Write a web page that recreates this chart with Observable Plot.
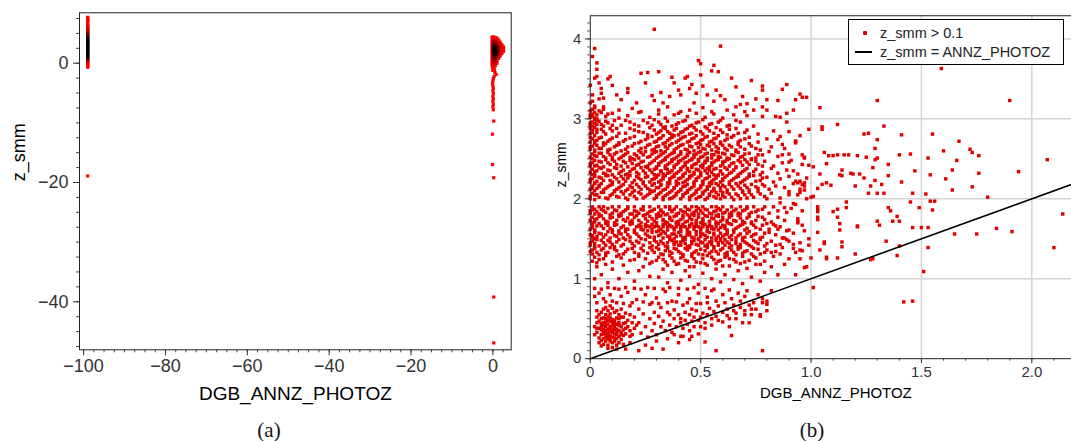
<!DOCTYPE html>
<html><head><meta charset="utf-8">
<script src="https://cdn.jsdelivr.net/npm/d3@7"></script>
<script src="https://cdn.jsdelivr.net/npm/@observablehq/plot@0.6"></script>
<style>
html,body{margin:0;padding:0;background:#fff;overflow:hidden;}
#root{position:relative;width:1071px;height:441px;overflow:hidden;font-family:"Liberation Sans",Arial,sans-serif;}
#pa{position:absolute;left:0;top:0;}
#pb{position:absolute;left:520px;top:0;}
.cap{position:absolute;top:430px;font-family:"Liberation Serif",serif;font-size:21px;color:#111;transform:translate(-50%,-50%);white-space:nowrap;}
#legend{position:absolute;left:848px;top:19px;width:216px;height:46px;border:1px solid #000;background:#fff;box-sizing:border-box;font-size:14.5px;color:#222;}
#legend .dot{position:absolute;left:14px;top:11px;width:4px;height:4px;background:#e00000;border-radius:1px;}
#legend .ln{position:absolute;left:6px;top:31px;width:17px;height:2px;background:#000;}
#legend .t{position:absolute;left:31px;white-space:nowrap;line-height:16px;}
</style></head>
<body><div id="root">
<div id="pa"></div><div id="pb"></div>
<div class="cap" style="left:269px">(a)</div>
<div class="cap" style="left:812px">(b)</div>
<div id="legend"><span class="dot"></span><span class="t" style="top:5px">z_smm &gt; 0.1</span><span class="ln"></span><span class="t" style="top:24px">z_smm = ANNZ_PHOTOZ</span></div>
</div>
<script>
// ---------- Panel (a) data ----------
const aXTicks = [-100, -80, -60, -40, -20, 0];
const aYTicks = [-40, -20, 0];
const aXLabel = "DGB_ANNZ_PHOTOZ";
const aYLabel = "z_smm";
const flagX = -99;
// column at DGB_ANNZ_PHOTOZ = -99 : [z_smm, overlap count]
const flagColumn = [7.7,1, 7.55,1, 7.4,1, 7.25,1, 7.1,1, 6.95,1, 6.5,1, 6.35,1, 6.2,2, 6.05,2, 5.9,3, 5.75,3, 5.6,4, 5.45,5, 5.3,6, 5.15,7, 5.0,9, 4.85,10, 4.7,12, 4.55,13, 4.4,15, 4.25,16, 4.1,18, 3.95,19, 3.8,20, 3.65,20, 3.5,20, 3.35,20, 3.2,20, 3.05,20, 2.9,20, 2.75,20, 2.6,20, 2.45,20, 2.3,20, 2.15,20, 2.0,20, 1.85,20, 1.7,20, 1.55,20, 1.4,20, 1.25,19, 1.1,17, 0.95,15, 0.8,12, 0.65,10, 0.5,7, 0.35,5, 0.2,3, 0.05,2, -0.1,1, -0.25,1, -0.4,1, -0.55,1, -0.67,1, -18.9,1];
// blob near zero : [photoz, z_smm, overlap count]
const zeroBlob = [-0.2,4.4,1, 0.2,4.4,2, 0.6,4.3,1, 1.0,4.2,1,
 -0.2,4.0,2, 0.2,4.0,4, 0.6,4.0,3, 1.0,3.9,2, 1.4,3.9,1,
 -0.2,3.6,3, 0.2,3.6,7, 0.6,3.6,8, 1.0,3.6,5, 1.4,3.6,2, 1.8,3.5,1,
 -0.2,3.2,5, 0.2,3.2,11, 0.6,3.2,13, 1.0,3.2,9, 1.4,3.2,4, 1.8,3.2,2, 2.2,3.1,1,
 -0.2,2.8,6, 0.2,2.8,15, 0.6,2.8,17, 1.0,2.8,12, 1.4,2.8,6, 1.8,2.8,3, 2.2,2.8,1, 2.6,2.7,1,
 -0.2,2.4,7, 0.2,2.4,18, 0.6,2.4,20, 1.0,2.4,14, 1.4,2.4,7, 1.8,2.4,3, 2.2,2.4,2, 2.6,2.4,1,
 -0.2,2.0,7, 0.2,2.0,18, 0.6,2.0,20, 1.0,2.0,14, 1.4,2.0,7, 1.8,2.0,3, 2.2,2.0,2, 2.6,2.0,1,
 -0.2,1.6,6, 0.2,1.6,16, 0.6,1.6,18, 1.0,1.6,12, 1.4,1.6,5, 1.8,1.6,2, 2.2,1.6,1,
 -0.2,1.2,5, 0.2,1.2,13, 0.6,1.2,14, 1.0,1.2,9, 1.4,1.2,3, 1.8,1.2,1,
 -0.2,0.8,4, 0.2,0.8,10, 0.6,0.8,10, 1.0,0.8,5, 1.4,0.8,2,
 -0.2,0.4,3, 0.2,0.4,7, 0.6,0.4,6, 1.0,0.4,3,
 -0.2,0.0,2, 0.2,0.0,4, 0.6,0.0,3, 1.0,0.0,1,
 -0.2,-0.4,1, 0.2,-0.4,2, 0.6,-0.4,1,
 -0.1,-0.8,1, 0.3,-0.8,1, 0.0,-1.2,1, 0.4,-1.2,1];
const zeroTail = [0.5,-1.6,2, 0.8,-1.9,1, 0.3,-2.2,2, 0.1,-2.6,2, 0.0,-3.0,2, -0.1,-3.4,1, 0.0,-3.8,1, 0.1,-4.2,1, 0.0,-4.6,1, 0.1,-5.1,1, 0.0,-5.6,1, 0.1,-6.0,1, 0.0,-6.4,1, 0.1,-6.9,1, 0.0,-7.3,1, 0.1,-7.8,1, 0.2,-9.7,1, -0.1,-11.9,1, -0.1,-17.0,1, 0.2,-19.2,1, 0.2,-39.2,1, 0.2,-46.9,1];

// ---------- Panel (b) data : [photoz, z_smm] pairs ----------
const bXTicks = [0, 0.5, 1.0, 1.5, 2.0];
const bYTicks = [0, 1, 2, 3, 4];
const identityLine = [0, 2.2];
const lowCluster = [.03,.45,.04,.38,.05,.30,.06,.42,.07,.35,.08,.28,.09,.40,.10,.33,.05,.50,.06,.25,.07,.46,.08,.37,.09,.22,.11,.44,.12,.30,.04,.55,.05,.36,.06,.31,.07,.27,.08,.48,.09,.34,.10,.41,.11,.26,.12,.37,.13,.45,.14,.33,.03,.33,.04,.26,.05,.44,.06,.51,.07,.40,.08,.32,.09,.47,.10,.27,.11,.36,.12,.51,.13,.28,.14,.40,.15,.36,.16,.45,.02,.40,.03,.52,.04,.47,.05,.23,.06,.37,.07,.31,.08,.43,.09,.29,.10,.49,.11,.31,.12,.43,.13,.35,.14,.52,.15,.29,.16,.38,.17,.48,.05,.58,.06,.62,.07,.55,.08,.60,.09,.56,.10,.63,.11,.58,.12,.60,.13,.55,.04,.20,.06,.18,.07,.22,.08,.17,.09,.25,.10,.20,.11,.22,.12,.17,.13,.20,.14,.24,.15,.18,.06,.45,.07,.50,.08,.53,.09,.38,.10,.36,.11,.48,.12,.25,.13,.50,.03,.60,.02,.30,.03,.38,.05,.40,.06,.33,.07,.43,.08,.25,.09,.51,.10,.45,.11,.40,.12,.34,.13,.42,.14,.30,.15,.44,.16,.31,.17,.40,.18,.35,.19,.45,.18,.28,.20,.38,.15,.52,.16,.57,.14,.62,.18,.55,.19,.30,.21,.42,.08,.13,.10,.14,.12,.12,.05,.16,.07,.64,.09,.66];
const lowerScatter = [.02,.88,.05,.87,.08,.89,.11,.88,.13,.87,.16,.89,.20,.88,.23,.87,.26,.89,.29,.88,.33,.87,.36,.89,.40,.88,.44,.87,.47,.89,.52,.88,.56,.87,
 .03,.70,.07,.71,.12,.70,.15,.69,.19,.70,.24,.71,.28,.70,.31,.69,.35,.70,.39,.71,.44,.70,.48,.69,.53,.70,
 .02,.78,.04,.82,.06,.75,.09,.80,.10,.72,.14,.78,.17,.83,.18,.66,.21,.74,.22,.62,.25,.80,.27,.68,.29,.58,.30,.76,.32,.64,.34,.84,.36,.55,.37,.72,.38,.61,.40,.80,.41,.50,.42,.67,.43,.58,.45,.75,.46,.62,.47,.52,.49,.82,.50,.69,.51,.57,.53,.77,.54,.63,.55,.85,.56,.59,.57,.72,.58,.66,.60,.80,.61,.70,.62,.62,.63,.86,.64,.75,.65,.67,.67,.82,.68,.72,.70,.78,.71,.85,.73,.62,.74,.70,.76,.80,.78,.75,.80,.68,.82,.85,
 .20,.52,.22,.45,.23,.32,.24,.56,.25,.40,.26,.27,.27,.50,.28,.35,.29,.44,.30,.30,.31,.53,.32,.40,.33,.47,.34,.35,.35,.58,.36,.42,.37,.33,.38,.50,.39,.40,.40,.55,.41,.45,.42,.38,.43,.48,.44,.43,.45,.55,.46,.47,.47,.40,.48,.60,.49,.48,.50,.52,.52,.45,.53,.55,.55,.50,.57,.53,.58,.48,.60,.58,.62,.54,.63,.50,.65,.60,.66,.57,.68,.64,.70,.60,.72,.67,.75,.62,.77,.55,.78,.70,.80,.72,
 .25,.17,.30,.22,.35,.25,.33,.12,.38,.30,.45,.35,.46,.28,.50,.40,.55,.42,.57,.10,.60,.46,.63,.40,.66,.50,.69,.45,.70,.55,.73,.55,.77,.53,.78,.10,.80,.60,.72,.45,.52,.38,.49,.31,.52,.21,.45,.24,.41,.28,.64,.29,.40,.20,.28,.13,.22,.10,.18,.20,.16,.12,.42,.28];
const gapScatter = [.02,1.00,.05,1.05,.08,.95,.10,1.12,.13,1.00,.17,1.08,.20,.97,.24,1.15,.27,1.03,.03,1.15,.07,1.18,.15,1.17,.22,1.10,
 .31,1.02,.33,1.12,.35,.95,.37,1.08,.39,1.18,.41,.98,.43,1.10,.45,1.03,.47,1.15,.49,.93,.51,1.07,.53,1.17,.55,1.00,.57,1.12,.59,.96,.61,1.05,.63,1.16,.65,.99,.67,1.10,.69,.94,.71,1.13,.73,1.02,.75,1.18,.77,.97,.79,1.08,.82,1.15,.85,1.05,.88,1.18];
const mainBlob = [
 .01,1.22,.02,1.27,.04,1.24,.07,1.29,.10,1.21,.14,1.26,.18,1.23,.22,1.28,.25,1.25,.28,1.21,.31,1.27,.33,1.24,.36,1.29,.38,1.22,.41,1.26,.43,1.23,.46,1.28,.48,1.21,.51,1.25,.53,1.29,.56,1.24,.58,1.22,.61,1.27,.63,1.25,.66,1.21,.69,1.28,.72,1.23,.75,1.26,.79,1.22,.83,1.28,.90,1.25,.35,1.17,.45,1.15,.52,1.19,.60,1.16,.68,1.19,
 .00,1.34,.01,1.31,.02,1.38,.03,1.33,.05,1.36,.07,1.32,.09,1.39,.12,1.35,.15,1.31,.17,1.37,.20,1.33,.23,1.38,.26,1.32,.28,1.36,.30,1.39,.32,1.31,.34,1.35,.35,1.38,.37,1.32,.39,1.37,.40,1.34,.42,1.30,.44,1.36,.45,1.39,.47,1.33,.49,1.31,.50,1.37,.52,1.35,.54,1.32,.56,1.38,.57,1.34,.59,1.36,.61,1.31,.63,1.39,.65,1.33,.67,1.37,.69,1.32,.71,1.35,.74,1.38,.77,1.31,.80,1.36,.84,1.34,.87,1.39,.93,1.33,
 .00,1.42,.01,1.47,.02,1.44,.03,1.49,.04,1.41,.06,1.45,.08,1.48,.10,1.43,.12,1.46,.14,1.41,.16,1.49,.19,1.44,.21,1.47,.24,1.42,.27,1.45,.29,1.48,.31,1.43,.32,1.47,.34,1.41,.35,1.45,.36,1.49,.38,1.43,.39,1.46,.41,1.42,.42,1.48,.43,1.44,.45,1.41,.46,1.47,.48,1.43,.49,1.49,.51,1.45,.52,1.41,.54,1.46,.55,1.43,.57,1.48,.58,1.42,.60,1.45,.61,1.49,.63,1.44,.64,1.41,.66,1.47,.68,1.43,.70,1.46,.72,1.42,.74,1.48,.76,1.44,.79,1.41,.82,1.47,.86,1.43,.89,1.49,.95,1.45,.99,1.42,
 .00,1.55,.01,1.51,.02,1.58,.03,1.53,.05,1.56,.06,1.52,.08,1.59,.11,1.54,.13,1.57,.15,1.51,.17,1.55,.20,1.58,.22,1.53,.25,1.56,.27,1.52,.30,1.59,.31,1.54,.33,1.51,.34,1.57,.36,1.53,.37,1.56,.38,1.50,.40,1.58,.41,1.54,.43,1.52,.44,1.57,.45,1.55,.47,1.51,.48,1.59,.50,1.53,.51,1.56,.53,1.52,.54,1.58,.56,1.55,.57,1.51,.59,1.57,.60,1.53,.62,1.56,.63,1.52,.65,1.58,.67,1.54,.69,1.51,.71,1.57,.73,1.53,.75,1.56,.78,1.52,.81,1.58,.84,1.55,.88,1.51,.92,1.57,
 .00,1.62,.01,1.68,.02,1.61,.03,1.66,.04,1.69,.06,1.63,.08,1.67,.10,1.61,.12,1.68,.14,1.64,.17,1.62,.19,1.69,.21,1.65,.23,1.65,.25,1.65,.27,1.65,.29,1.65,.31,1.65,.33,1.65,.35,1.65,.37,1.65,.39,1.65,.41,1.65,.43,1.65,.45,1.65,.47,1.65,.49,1.65,.51,1.65,.53,1.65,.55,1.65,.57,1.65,.59,1.64,.22,1.66,.26,1.66,.30,1.66,.36,1.66,.42,1.66,.48,1.66,.54,1.66,.60,1.66,.24,1.61,.28,1.68,.32,1.62,.34,1.69,.38,1.61,.40,1.68,.44,1.62,.46,1.69,.50,1.61,.52,1.68,.56,1.62,.58,1.69,.61,1.66,.62,1.61,.64,1.68,.66,1.63,.68,1.67,.70,1.61,.73,1.69,.75,1.64,.78,1.67,.81,1.62,.83,1.68,.86,1.65,.90,1.61,.96,1.67,
 .00,1.73,.01,1.77,.02,1.71,.03,1.75,.05,1.79,.07,1.72,.09,1.76,.11,1.70,.13,1.78,.15,1.74,.18,1.71,.20,1.77,.22,1.73,.24,1.79,.26,1.72,.28,1.75,.30,1.70,.31,1.78,.33,1.74,.34,1.71,.36,1.77,.37,1.73,.39,1.79,.40,1.72,.42,1.76,.43,1.71,.45,1.78,.46,1.74,.48,1.70,.49,1.77,.51,1.73,.52,1.79,.54,1.72,.55,1.76,.57,1.71,.58,1.78,.60,1.74,.62,1.70,.63,1.77,.65,1.73,.67,1.79,.69,1.72,.71,1.76,.73,1.71,.76,1.78,.79,1.74,.82,1.71,.85,1.77,.88,1.73,.94,1.75,
 .00,1.82,.01,1.86,.02,1.81,.03,1.84,.05,1.87,.07,1.83,.09,1.80,.12,1.85,.14,1.82,.16,1.86,.19,1.81,.21,1.84,.23,1.87,.26,1.82,.28,1.85,.30,1.80,.32,1.86,.33,1.83,.35,1.81,.37,1.85,.38,1.87,.40,1.82,.42,1.84,.44,1.80,.45,1.86,.47,1.83,.49,1.81,.50,1.85,.52,1.87,.54,1.82,.56,1.84,.58,1.80,.59,1.86,.61,1.83,.63,1.81,.65,1.85,.67,1.82,.70,1.86,.72,1.81,.75,1.84,.78,1.87,.81,1.82,.85,1.85,.89,1.83,
 .01,1.90,.04,1.90,.06,1.90,.10,1.90,.13,1.90,.17,1.90,.20,1.90,.24,1.90,.27,1.90,.31,1.90,.34,1.90,.36,1.90,.39,1.90,.43,1.90,.46,1.90,.48,1.90,.51,1.90,.55,1.90,.57,1.90,.60,1.90,.64,1.90,.68,1.90,.71,1.90,.74,1.90,.79,1.90,.83,1.90,
 .00,2.03,.01,2.07,.02,1.99,.03,2.05,.05,2.08,.07,2.01,.09,2.04,.11,2.09,.13,2.02,.15,2.06,.17,1.99,.20,2.03,.22,2.08,.24,2.01,.26,2.05,.28,2.09,.30,2.02,.31,2.06,.33,1.99,.34,2.04,.36,2.08,.37,2.01,.39,2.05,.40,2.09,.42,2.03,.43,2.07,.45,1.99,.46,2.04,.48,2.08,.49,2.02,.51,2.06,.52,1.99,.54,2.04,.55,2.09,.57,2.01,.58,2.05,.60,2.08,.61,2.02,.63,2.06,.65,1.99,.67,2.04,.69,2.08,.71,2.01,.73,2.05,.76,2.09,.79,2.03,.82,2.07,.86,2.01,.90,2.05,.95,2.08,1.00,2.02,
 .00,2.12,.01,2.16,.02,2.19,.03,2.13,.04,2.17,.06,2.11,.08,2.15,.10,2.18,.12,2.12,.14,2.16,.16,2.10,.19,2.14,.21,2.18,.23,2.12,.25,2.16,.27,2.11,.29,2.19,.30,2.14,.32,2.17,.33,2.11,.35,2.15,.36,2.19,.38,2.13,.39,2.17,.41,2.11,.42,2.15,.44,2.18,.45,2.12,.47,2.16,.48,2.10,.50,2.14,.51,2.18,.53,2.12,.54,2.16,.56,2.11,.57,2.19,.59,2.14,.60,2.17,.62,2.11,.64,2.15,.66,2.19,.68,2.13,.70,2.17,.72,2.11,.75,2.15,.78,2.18,.81,2.12,.84,2.16,.88,2.14,.92,2.19,.97,2.11,
 .00,2.21,.01,2.25,.02,2.28,.03,2.22,.05,2.26,.07,2.29,.09,2.23,.11,2.27,.13,2.21,.15,2.25,.18,2.29,.20,2.23,.22,2.26,.24,2.21,.26,2.28,.28,2.24,.30,2.27,.31,2.21,.33,2.25,.34,2.29,.36,2.23,.37,2.27,.39,2.21,.40,2.25,.42,2.28,.43,2.22,.45,2.26,.46,2.29,.48,2.23,.49,2.27,.51,2.21,.52,2.25,.54,2.28,.55,2.22,.57,2.26,.58,2.29,.60,2.23,.61,2.27,.63,2.21,.65,2.25,.67,2.28,.69,2.22,.71,2.26,.74,2.29,.77,2.23,.80,2.27,.83,2.21,.86,2.25,.90,2.28,.93,2.22,.98,2.26,
 .00,2.33,.01,2.37,.02,2.31,.03,2.35,.04,2.39,.06,2.32,.08,2.36,.10,2.30,.12,2.38,.14,2.34,.17,2.31,.19,2.37,.21,2.33,.23,2.39,.25,2.32,.27,2.36,.29,2.30,.30,2.38,.32,2.34,.33,2.31,.35,2.37,.36,2.33,.38,2.39,.39,2.32,.41,2.36,.42,2.30,.44,2.38,.45,2.34,.47,2.31,.48,2.37,.50,2.33,.51,2.39,.53,2.32,.54,2.36,.56,2.30,.57,2.38,.59,2.34,.60,2.31,.62,2.37,.64,2.33,.66,2.39,.68,2.32,.70,2.36,.72,2.31,.75,2.37,.78,2.33,.82,2.38,.85,2.32,.89,2.36,.94,2.31,
 .00,2.41,.01,2.45,.02,2.48,.03,2.42,.05,2.46,.07,2.49,.09,2.43,.11,2.47,.14,2.41,.16,2.45,.18,2.48,.21,2.42,.23,2.46,.25,2.40,.27,2.44,.29,2.48,.31,2.42,.32,2.46,.34,2.49,.35,2.43,.37,2.47,.38,2.41,.40,2.45,.41,2.48,.43,2.42,.44,2.46,.46,2.49,.47,2.43,.49,2.47,.50,2.41,.52,2.45,.53,2.48,.55,2.42,.56,2.46,.58,2.49,.60,2.43,.61,2.47,.63,2.41,.65,2.45,.67,2.48,.69,2.42,.71,2.46,.73,2.49,.76,2.43,.79,2.47,.83,2.41,.87,2.45,.91,2.48,.96,2.43,
 .00,2.52,.01,2.56,.02,2.59,.03,2.53,.05,2.57,.07,2.51,.09,2.55,.12,2.58,.14,2.52,.16,2.56,.19,2.50,.21,2.54,.23,2.58,.26,2.52,.28,2.56,.30,2.59,.31,2.53,.33,2.57,.34,2.51,.36,2.55,.38,2.58,.39,2.52,.41,2.56,.42,2.50,.44,2.54,.45,2.58,.47,2.52,.48,2.56,.50,2.59,.51,2.53,.53,2.57,.55,2.51,.56,2.55,.58,2.58,.59,2.52,.61,2.56,.63,2.50,.65,2.54,.67,2.58,.69,2.53,.72,2.57,.75,2.51,.78,2.55,.81,2.59,.85,2.53,.90,2.56,.97,2.52,
 .00,2.62,.01,2.66,.02,2.69,.04,2.63,.06,2.67,.08,2.61,.11,2.65,.13,2.68,.16,2.62,.19,2.66,.22,2.60,.25,2.64,.27,2.68,.29,2.62,.31,2.66,.33,2.69,.35,2.63,.36,2.67,.38,2.61,.40,2.65,.42,2.68,.43,2.62,.45,2.66,.47,2.60,.49,2.64,.50,2.68,.52,2.62,.54,2.66,.56,2.69,.58,2.63,.60,2.67,.62,2.61,.64,2.65,.67,2.68,.70,2.62,.73,2.66,.77,2.61,.82,2.65,.87,2.68,
 .00,2.71,.01,2.75,.02,2.79,.03,2.73,.05,2.77,.08,2.72,.10,2.76,.13,2.70,.16,2.74,.20,2.78,.23,2.72,.26,2.76,.29,2.71,.31,2.75,.33,2.79,.35,2.73,.37,2.77,.39,2.71,.41,2.75,.43,2.78,.45,2.72,.47,2.76,.49,2.70,.51,2.74,.53,2.78,.55,2.72,.57,2.76,.59,2.71,.62,2.75,.65,2.79,.68,2.73,.72,2.77,.76,2.71,.80,2.75,.86,2.78,.93,2.72,
 .00,2.82,.01,2.86,.02,2.89,.03,2.83,.05,2.87,.07,2.81,.10,2.85,.12,2.88,.16,2.82,.20,2.86,.24,2.83,.27,2.89,.30,2.81,.32,2.85,.34,2.88,.36,2.82,.38,2.86,.40,2.80,.42,2.84,.44,2.88,.46,2.82,.48,2.86,.51,2.81,.54,2.85,.57,2.89,.60,2.83,.63,2.87,.67,2.82,.71,2.86,.76,2.81,.83,2.85,
 .00,2.92,.01,2.96,.02,2.99,.03,2.93,.04,2.97,.06,2.91,.08,2.95,.11,2.98,.14,2.92,.18,2.96,.22,2.91,.26,2.95,.29,2.99,.32,2.93,.35,2.97,.37,2.91,.40,2.95,.43,2.98,.46,2.92,.49,2.96,.52,2.90,.55,2.94,.59,2.98,.63,2.92,.68,2.96,.74,2.91,
 .00,3.02,.01,3.06,.02,3.01,.03,3.05,.05,3.08,.07,3.03,.10,3.07,.13,3.01,.17,3.04,.22,3.08,.27,3.02,.31,3.06,.34,3.01,.38,3.05,.41,3.09,.44,3.03,.48,3.07,.52,3.02,.56,3.06,.60,3.01,.65,3.05,.70,3.09,.78,3.03];
const mainBlob2 = [
 .03,1.20,.06,1.25,.12,1.28,.20,1.24,.27,1.19,.30,1.23,.34,1.21,.37,1.26,.40,1.19,.42,1.28,.44,1.22,.47,1.25,.50,1.20,.55,1.27,.57,1.19,.59,1.23,.62,1.29,.65,1.24,.70,1.21,.74,1.28,.77,1.18,
 .01,1.36,.04,1.30,.06,1.38,.08,1.33,.11,1.37,.13,1.30,.16,1.34,.19,1.38,.22,1.31,.24,1.35,.27,1.39,.29,1.33,.31,1.37,.33,1.30,.36,1.34,.38,1.38,.41,1.32,.43,1.38,.46,1.31,.48,1.35,.51,1.30,.53,1.39,.55,1.34,.58,1.31,.60,1.38,.62,1.33,.64,1.36,.66,1.30,.68,1.39,.70,1.34,.73,1.31,.76,1.37,.79,1.33,
 .00,1.45,.02,1.40,.05,1.48,.07,1.42,.09,1.46,.11,1.40,.13,1.49,.15,1.43,.18,1.47,.20,1.41,.22,1.45,.25,1.49,.28,1.41,.30,1.46,.33,1.44,.35,1.40,.37,1.48,.38,1.45,.40,1.42,.41,1.46,.43,1.49,.44,1.40,.46,1.44,.47,1.48,.49,1.42,.50,1.46,.52,1.49,.53,1.43,.55,1.47,.56,1.40,.58,1.45,.59,1.48,.61,1.42,.62,1.46,.64,1.49,.66,1.44,.67,1.40,.69,1.48,.71,1.44,.73,1.40,.75,1.46,.77,1.49,.80,1.44,
 .01,1.54,.02,1.50,.04,1.57,.07,1.55,.09,1.51,.10,1.58,.12,1.53,.14,1.56,.16,1.59,.18,1.52,.21,1.56,.23,1.50,.26,1.54,.28,1.58,.29,1.52,.32,1.56,.33,1.59,.35,1.53,.36,1.50,.38,1.56,.39,1.53,.41,1.59,.42,1.51,.44,1.55,.45,1.58,.46,1.52,.48,1.55,.49,1.50,.50,1.57,.52,1.54,.53,1.59,.55,1.51,.56,1.57,.58,1.53,.59,1.50,.61,1.55,.62,1.59,.64,1.54,.66,1.51,.68,1.56,.70,1.52,.72,1.59,.74,1.55,.77,1.51,.79,1.57,
 .01,1.64,.02,1.60,.05,1.66,.07,1.69,.09,1.63,.11,1.67,.13,1.60,.15,1.66,.16,1.62,.18,1.68,.20,1.61,.22,1.67,.23,1.62,.25,1.68,.26,1.60,.28,1.62,.30,1.67,.31,1.60,.33,1.68,.35,1.61,.36,1.67,.38,1.63,.39,1.69,.41,1.62,.42,1.68,.44,1.60,.45,1.67,.47,1.62,.48,1.68,.50,1.63,.51,1.69,.53,1.61,.54,1.67,.55,1.63,.57,1.69,.58,1.61,.60,1.67,.61,1.63,.63,1.69,.65,1.61,.67,1.65,.69,1.68,.71,1.63,.74,1.67,.77,1.62,.80,1.69,
 .01,1.70,.02,1.74,.04,1.78,.06,1.75,.08,1.71,.10,1.77,.12,1.73,.14,1.79,.16,1.72,.17,1.76,.19,1.73,.21,1.79,.23,1.70,.25,1.75,.27,1.78,.29,1.72,.30,1.76,.32,1.79,.33,1.73,.35,1.70,.36,1.75,.38,1.78,.39,1.71,.41,1.74,.42,1.79,.44,1.72,.45,1.76,.47,1.79,.48,1.73,.50,1.70,.51,1.75,.53,1.78,.54,1.71,.56,1.75,.57,1.79,.59,1.72,.60,1.77,.62,1.73,.64,1.79,.66,1.72,.68,1.76,.70,1.70,.72,1.78,.75,1.73,.78,1.77,
 .00,1.85,.02,1.87,.04,1.81,.06,1.85,.08,1.88,.10,1.82,.11,1.86,.13,1.80,.15,1.84,.17,1.88,.18,1.81,.20,1.85,.22,1.82,.24,1.86,.25,1.80,.27,1.84,.29,1.87,.31,1.82,.32,1.85,.34,1.80,.36,1.87,.37,1.84,.39,1.81,.41,1.86,.43,1.83,.44,1.87,.46,1.81,.48,1.85,.49,1.88,.51,1.82,.53,1.86,.55,1.81,.57,1.85,.58,1.88,.60,1.82,.62,1.86,.64,1.83,.66,1.87,.68,1.81,.69,1.85,.71,1.88,.73,1.83,.76,1.86,
 .00,2.00,.02,2.05,.04,2.02,.06,2.08,.08,2.00,.10,2.06,.12,2.03,.14,2.09,.16,2.01,.18,2.05,.19,2.08,.21,2.00,.23,2.06,.25,2.03,.27,2.07,.29,2.00,.30,2.04,.32,2.08,.33,2.02,.35,2.06,.36,2.00,.38,2.03,.39,2.07,.41,2.00,.42,2.05,.44,2.08,.45,2.02,.47,2.06,.48,2.00,.50,2.03,.51,2.08,.53,2.01,.54,2.06,.56,2.03,.57,2.08,.59,2.00,.60,2.04,.62,2.08,.64,2.02,.66,2.06,.68,2.00,.70,2.05,.72,2.08,.74,2.02,.77,2.06,.80,2.00,
 .01,2.13,.02,2.10,.04,2.15,.05,2.19,.07,2.13,.09,2.17,.11,2.10,.13,2.14,.15,2.18,.17,2.12,.18,2.16,.20,2.10,.22,2.15,.24,2.19,.26,2.13,.28,2.17,.29,2.10,.31,2.14,.32,2.18,.34,2.12,.35,2.16,.37,2.10,.38,2.14,.40,2.19,.41,2.12,.43,2.16,.44,2.10,.46,2.14,.47,2.19,.49,2.12,.50,2.16,.52,2.10,.53,2.15,.55,2.19,.56,2.13,.58,2.17,.59,2.10,.61,2.15,.63,2.18,.65,2.12,.67,2.16,.69,2.10,.71,2.14,.73,2.18,.76,2.13,.79,2.16,
 .00,2.24,.02,2.20,.04,2.27,.06,2.23,.08,2.29,.10,2.21,.12,2.25,.14,2.28,.16,2.22,.17,2.26,.19,2.20,.21,2.28,.23,2.24,.25,2.27,.27,2.21,.29,2.25,.30,2.29,.32,2.23,.33,2.27,.35,2.20,.36,2.25,.38,2.28,.39,2.22,.41,2.26,.42,2.20,.44,2.24,.45,2.28,.47,2.21,.48,2.25,.50,2.29,.51,2.22,.53,2.26,.54,2.20,.56,2.24,.57,2.28,.59,2.21,.60,2.25,.62,2.29,.64,2.23,.66,2.27,.68,2.20,.70,2.24,.72,2.28,.75,2.22,.78,2.26,
 .01,2.30,.02,2.34,.05,2.38,.07,2.31,.09,2.35,.11,2.39,.13,2.32,.15,2.36,.16,2.30,.18,2.34,.20,2.38,.22,2.31,.24,2.35,.26,2.39,.28,2.33,.29,2.37,.31,2.30,.32,2.35,.34,2.38,.35,2.32,.37,2.35,.38,2.30,.40,2.34,.41,2.38,.43,2.32,.44,2.36,.46,2.39,.47,2.33,.49,2.36,.50,2.30,.52,2.35,.53,2.38,.55,2.33,.56,2.37,.58,2.30,.59,2.35,.61,2.39,.63,2.32,.65,2.36,.67,2.30,.69,2.34,.71,2.38,.74,2.34,.77,2.30,
 .00,2.44,.02,2.41,.04,2.47,.06,2.40,.08,2.45,.10,2.49,.12,2.43,.15,2.47,.17,2.40,.19,2.44,.20,2.49,.22,2.43,.24,2.47,.26,2.41,.28,2.46,.30,2.40,.31,2.44,.33,2.48,.34,2.41,.36,2.45,.37,2.49,.39,2.43,.40,2.47,.42,2.40,.43,2.45,.45,2.48,.46,2.41,.48,2.44,.49,2.49,.51,2.43,.52,2.47,.54,2.40,.55,2.45,.57,2.48,.59,2.41,.60,2.46,.62,2.49,.64,2.44,.66,2.40,.68,2.46,.70,2.49,.72,2.43,.75,2.47,.78,2.41,
 .01,2.50,.02,2.54,.04,2.57,.06,2.53,.08,2.58,.10,2.52,.11,2.56,.13,2.50,.15,2.54,.17,2.58,.18,2.52,.20,2.56,.22,2.51,.24,2.55,.25,2.59,.27,2.53,.29,2.58,.30,2.51,.32,2.55,.34,2.59,.35,2.53,.37,2.57,.38,2.50,.40,2.54,.41,2.59,.43,2.52,.44,2.56,.46,2.50,.47,2.55,.49,2.58,.50,2.52,.52,2.56,.53,2.51,.55,2.55,.57,2.59,.58,2.53,.60,2.57,.62,2.51,.64,2.55,.66,2.59,.68,2.52,.70,2.56,.73,2.50,.76,2.55,
 .00,2.65,.02,2.61,.03,2.67,.05,2.63,.07,2.69,.09,2.62,.12,2.67,.14,2.60,.17,2.65,.20,2.69,.23,2.63,.26,2.67,.28,2.61,.30,2.65,.32,2.60,.34,2.65,.37,2.69,.39,2.63,.41,2.67,.44,2.61,.46,2.65,.48,2.69,.51,2.63,.53,2.67,.55,2.61,.57,2.65,.59,2.69,.61,2.63,.63,2.67,.66,2.61,.68,2.65,.72,2.69,.75,2.63,
 .00,2.77,.02,2.72,.04,2.76,.06,2.70,.09,2.74,.12,2.78,.15,2.72,.18,2.76,.22,2.70,.25,2.74,.28,2.78,.30,2.72,.32,2.76,.34,2.70,.36,2.75,.38,2.79,.40,2.73,.42,2.77,.44,2.71,.46,2.75,.48,2.79,.50,2.73,.52,2.77,.54,2.71,.56,2.75,.58,2.79,.61,2.73,.64,2.77,.67,2.71,.70,2.75,
 .00,2.88,.01,2.83,.03,2.87,.06,2.84,.09,2.88,.13,2.82,.18,2.88,.22,2.84,.26,2.80,.29,2.86,.31,2.83,.33,2.89,.35,2.84,.37,2.80,.39,2.88,.41,2.83,.43,2.87,.45,2.81,.47,2.89,.50,2.84,.53,2.88,.56,2.82,.59,2.86,.62,2.80,.66,2.88,.70,2.83,
 .00,2.95,.01,2.91,.02,2.94,.03,2.98,.05,2.93,.07,2.97,.10,2.92,.16,2.98,.20,2.93,.24,2.98,.28,2.92,.31,2.96,.34,2.90,.39,2.93,.42,2.97,.45,2.91,.48,2.95,.51,2.99,.54,2.93,.58,2.96,.62,2.91,.66,2.98,
 .00,3.05,.01,3.03,.02,3.08,.00,3.10,.01,3.12,.03,3.00,.04,3.10,.02,3.14,.06,3.12,.08,3.06];
const upperScatter = [.29,4.12,.59,3.91,.02,3.88,.01,3.78,.03,3.70,.03,3.62,.49,3.73,.50,3.69,.56,3.67,.55,3.60,.58,3.59,.23,3.57,.26,3.58,.31,3.59,.02,3.51,.03,3.53,.09,3.53,.08,3.50,.37,3.52,.43,3.51,.44,3.53,.64,3.51,.73,3.48,.78,3.41,.89,3.43,.87,3.37,.17,3.38,.17,3.33,.05,3.38,.05,3.32,.04,3.25,.06,3.26,.14,3.24,.28,3.29,.29,3.23,.32,3.33,.36,3.28,.40,3.36,.41,3.30,.45,3.38,.46,3.43,.48,3.32,.50,3.55,.51,3.41,.57,3.36,.59,3.29,.61,3.24,.69,3.28,.71,3.19,.78,3.36,.80,3.24,.85,3.23,.93,3.24,.96,3.27,
 .06,3.15,.13,3.11,.19,3.13,.23,3.09,.31,3.11,.35,3.15,.40,3.07,.45,3.11,.51,3.14,.55,3.09,.62,3.11,.66,3.15,.71,3.04,.74,3.11,.78,3.15,.80,3.11,.84,3.03,.86,3.02,.89,3.07,.92,3.11,
 .00,3.20,.01,3.30,.00,3.42,.02,3.16,.01,3.22,.04,3.45,.10,3.42,.12,3.30,.21,3.20,.25,3.45,.33,3.20,.38,3.45,.47,3.20,.53,3.30,.66,3.40,.75,3.25,.68,3.18,.56,3.22];
const rightEdge = [.93,2.70,.96,2.55,.99,2.42,.92,2.35,.97,2.20,.95,2.12,.98,2.00,.91,1.88,.94,1.72,.97,1.60,.99,1.50,.92,1.38,.95,1.25,.98,1.15,.93,1.05,.95,2.22,.96,2.18,.94,2.20,.97,2.16,.94,2.05,.90,2.09,.93,1.93,.88,1.89,.84,1.66,.85,1.62,.89,1.60,.94,1.70,.87,1.51,.92,1.43,.84,1.42,.95,1.36,.82,1.33,.86,1.31,.90,1.47,.90,2.84,.89,2.96,.95,2.79,.93,2.72,.85,2.74,.87,2.55,.97,2.51,.90,2.46,.88,2.63,.96,1.35,.97,1.14,.96,1.85,.99,2.87,.95,3.31,.98,3.27,.86,1.95,.92,1.94];
const farScatter = [1.59,3.63,1.90,3.23,1.30,3.23,1.04,3.14,1.12,2.93,1.05,2.90,1.05,2.87,1.33,2.91,1.26,2.82,1.24,2.81,1.30,2.74,1.41,2.80,1.55,2.81,1.67,2.72,1.60,2.60,1.72,2.62,1.73,2.58,1.76,2.54,2.07,2.49,1.94,2.34,1.76,2.32,1.64,2.36,1.61,2.25,1.66,2.48,1.54,2.30,1.53,2.51,1.47,2.35,1.45,2.56,1.46,2.07,1.52,2.06,1.54,1.97,1.56,1.97,1.55,1.86,1.49,1.89,1.45,1.96,1.64,2.11,1.80,2.02,1.73,2.15,1.41,2.21,1.35,2.43,1.35,2.29,1.32,2.18,1.33,2.07,1.35,1.89,1.36,1.85,1.37,1.72,1.30,1.72,1.31,1.67,1.34,1.47,1.39,1.29,1.40,1.41,1.28,1.25,1.27,1.24,1.20,1.31,1.26,2.07,1.27,2.16,1.30,2.51,1.29,2.49,1.28,2.39,1.29,2.63,1.25,2.52,1.21,2.54,1.17,2.55,1.15,2.55,1.12,2.55,1.10,2.54,1.08,2.54,1.06,2.58,1.07,2.44,1.07,2.20,1.04,2.31,1.01,2.40,1.13,2.30,1.14,2.36,1.14,2.29,1.18,2.32,1.19,2.31,1.20,2.16,1.22,2.31,1.24,2.26,1.29,2.23,1.03,2.13,1.05,2.18,1.09,2.17,1.01,2.03,1.03,1.87,1.03,1.90,1.03,1.84,1.03,1.77,1.03,1.74,1.10,1.84,1.12,1.87,1.12,1.77,1.13,1.69,1.16,1.89,1.16,1.96,1.21,1.66,1.21,1.65,1.13,1.61,1.03,1.58,1.06,1.46,1.06,1.44,1.14,1.46,1.14,1.40,1.04,1.36,1.07,1.27,1.07,1.25,1.12,1.26,1.00,1.26,1.01,.89,1.42,.71,1.46,.72,1.51,1.09,1.53,1.39,1.53,1.64,1.50,1.64,1.46,1.64,1.65,1.56,1.75,1.56,1.84,1.63,1.91,1.59,2.10,1.39,2.14,1.81,1.40,2.55,1.30,2.07,1.39,1.78,1.40,1.72];
const bXLabel = "DGB_ANNZ_PHOTOZ";
const bYLabel = "z_smm";

// ---------- build ----------
const pairs = a => { const o = []; for (let i = 0; i + 1 < a.length; i += 2) o.push({x: a[i], y: a[i + 1]}); return o; };
const triples = a => { const o = []; for (let i = 0; i + 2 < a.length; i += 3) o.push({x: a[i], y: a[i + 1], n: a[i + 2]}); return o; };
const colPts = []; for (let i = 0; i + 1 < flagColumn.length; i += 2) colPts.push({x: flagX, y: flagColumn[i], n: flagColumn[i + 1]});
const ptsA = d3.sort(colPts.concat(triples(zeroBlob), triples(zeroTail)), d => d.n);
const ptsB = [lowCluster, lowerScatter, gapScatter, mainBlob, mainBlob2, upperScatter, rightEdge, farScatter].flatMap(pairs);

const font = "Liberation Sans, Arial, sans-serif";
const tickCol = "#333";

const plotA = Plot.plot({
  width: 520, height: 418,
  marginLeft: 79, marginRight: 9.3, marginTop: 12.3, marginBottom: 68.7,
  x: {domain: [-101, 4.47], label: null},
  y: {domain: [-48.05, 8.45], label: null},
  color: {type: "linear", domain: [1, 20], range: ["#ff0000", "#000000"], interpolate: "rgb"},
  style: {fontFamily: font, background: "transparent"},
  marks: [
    Plot.dot(ptsA, {x: "x", y: "y", fill: "n", symbol: "square", r: 1.8}),
    Plot.frame({stroke: "#222"}),
    Plot.axisX(d3.range(-100, 4.5, 2.5), {tickSize: 3, tickFormat: () => "", label: null, color: "#444"}),
    Plot.axisX(aXTicks, {tickSize: 6, tickPadding: 3, fontSize: 18, color: tickCol, label: null}),
    Plot.axisY(d3.range(-47.5, 8.5, 2.5), {tickSize: 3, tickFormat: () => "", label: null, color: "#444"}),
    Plot.axisY(aYTicks, {tickSize: 6, tickPadding: 5, fontSize: 18, color: tickCol, label: null}),
    Plot.text([aXLabel], {text: d => d, frameAnchor: "bottom", dy: 50, fontSize: 19, fill: "#000"}),
    Plot.text([aYLabel], {text: d => d, frameAnchor: "left", dx: -60, rotate: -90, fontSize: 18, fill: "#000"})
  ]
});
document.getElementById("pa").appendChild(plotA);

const plotB = Plot.plot({
  width: 553, height: 418,
  marginLeft: 70, marginRight: 0, marginTop: 15.3, marginBottom: 58.5,
  x: {domain: [0, 2.1796], label: null},
  y: {domain: [0, 4.29], label: null},
  style: {fontFamily: font, background: "transparent"},
  marks: [
    Plot.gridX(bXTicks.filter(d => d > 0), {stroke: "#d4d4d4", strokeOpacity: 1, strokeWidth: 1.5}),
    Plot.gridY(bYTicks.filter(d => d > 0), {stroke: "#d4d4d4", strokeOpacity: 1, strokeWidth: 1.5}),
    Plot.dot(ptsB, {x: "x", y: "y", fill: "#e00000", symbol: "square", r: 1.95}),
    Plot.line(identityLine, {x: d => d, y: d => d, stroke: "#000", strokeWidth: 1.6}),
    Plot.frame({stroke: "#222"}),
    Plot.axisX(d3.range(0, 2.18, 0.1), {tickSize: 2.5, tickFormat: () => "", label: null, color: "#444"}),
    Plot.axisX(bXTicks, {tickSize: 5, tickPadding: 3, fontSize: 15, color: tickCol, label: null, tickFormat: d => d === 0 ? "0" : d.toFixed(1)}),
    Plot.axisY(d3.range(0, 4.29, 0.1), {tickSize: 2.5, tickFormat: () => "", label: null, color: "#444"}),
    Plot.axisY(bYTicks, {tickSize: 5, tickPadding: 4, fontSize: 15, color: tickCol, label: null, tickFormat: d => String(d)}),
    Plot.text([bXLabel], {text: d => d, frameAnchor: "bottom", dx: 5, dy: 39, fontSize: 15, fill: "#000"}),
    Plot.text([bYLabel], {text: d => d, frameAnchor: "left", dx: -29, rotate: -90, fontSize: 14, fill: "#000"})
  ]
});
document.getElementById("pb").appendChild(plotB);
</script>
</body></html>
